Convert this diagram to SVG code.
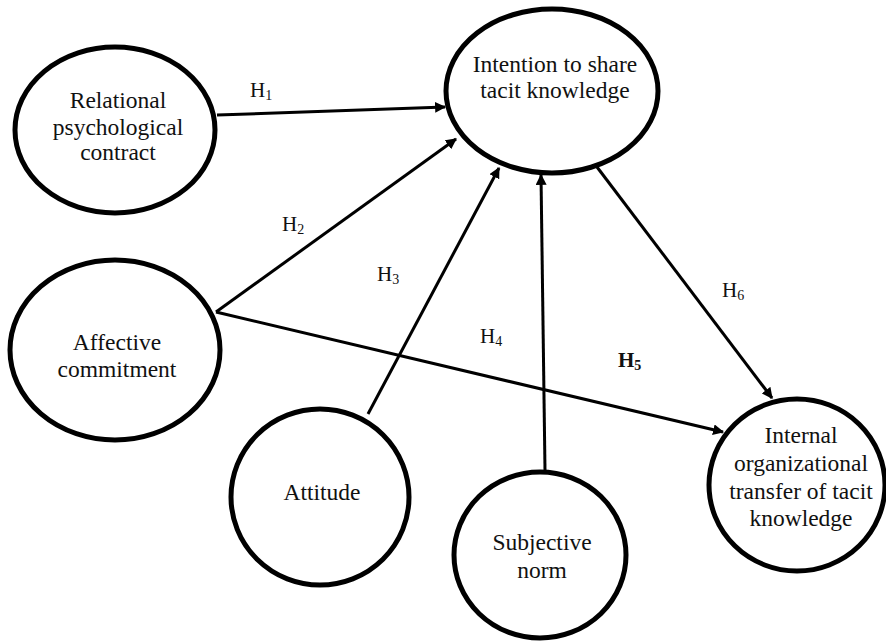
<svg xmlns="http://www.w3.org/2000/svg" width="886" height="643" viewBox="0 0 886 643">
  <style>
    .node ellipse { fill: #ffffff; stroke: #000000; stroke-width: 5; }
    .node text { font-family: "Liberation Serif", "Times New Roman", serif; font-size: 23.5px; fill: #111111; text-anchor: middle; }
    .edge { stroke: #000000; stroke-width: 3; fill: none; }
    .lbl { font-family: "Liberation Serif", "Times New Roman", serif; font-size: 21px; fill: #111111; }
    .sub { font-size: 14px; }
    .bold { font-weight: bold; }
  </style>
  <defs>
    <marker id="arrow" viewBox="0 0 10 10" refX="9" refY="5" markerWidth="11" markerHeight="11" markerUnits="userSpaceOnUse" orient="auto">
      <path d="M0,0 L10,5 L0,10 z" fill="#000000"/>
    </marker>
  </defs>
  <rect x="0" y="0" width="886" height="643" fill="#ffffff"/>

  <g id="relational" class="node">
    <ellipse cx="115" cy="130" rx="100" ry="83"/>
    <text x="118" y="108">Relational</text>
    <text x="118" y="135">psychological</text>
    <text x="118" y="160">contract</text>
  </g>
  <g id="intention" class="node">
    <ellipse cx="552" cy="91" rx="106" ry="82"/>
    <text x="555" y="72">Intention to share</text>
    <text x="555" y="98">tacit knowledge</text>
  </g>
  <g id="affective" class="node">
    <ellipse cx="115" cy="350" rx="105" ry="90"/>
    <text x="117" y="350">Affective</text>
    <text x="117" y="377">commitment</text>
  </g>
  <g id="attitude" class="node">
    <ellipse cx="320" cy="497" rx="89" ry="88"/>
    <text x="322" y="500">Attitude</text>
  </g>
  <g id="subjective" class="node">
    <ellipse cx="540" cy="555" rx="86" ry="83"/>
    <text x="542" y="550">Subjective</text>
    <text x="542" y="578">norm</text>
  </g>
  <g id="internal" class="node">
    <ellipse cx="797" cy="485" rx="88" ry="86"/>
    <text x="801" y="443">Internal</text>
    <text x="801" y="471">organizational</text>
    <text x="801" y="499">transfer of tacit</text>
    <text x="801" y="526">knowledge</text>
  </g>

  <g id="connectors">
    <line class="edge" x1="217" y1="115" x2="445" y2="107" marker-end="url(#arrow)"/>
    <line class="edge" x1="216" y1="312" x2="456" y2="139" marker-end="url(#arrow)"/>
    <line class="edge" x1="368" y1="414" x2="499" y2="168" marker-end="url(#arrow)"/>
    <line class="edge" x1="545" y1="470" x2="541" y2="175" marker-end="url(#arrow)"/>
    <line class="edge" x1="216" y1="312" x2="723" y2="432" marker-end="url(#arrow)"/>
    <line class="edge" x1="597" y1="167" x2="772" y2="398" marker-end="url(#arrow)"/>
  </g>

  <g id="labels">
    <text class="lbl" x="250" y="97">H<tspan class="sub" dy="3">1</tspan></text>
    <text class="lbl" x="282" y="231">H<tspan class="sub" dy="3">2</tspan></text>
    <text class="lbl" x="377" y="281">H<tspan class="sub" dy="3">3</tspan></text>
    <text class="lbl" x="480" y="343">H<tspan class="sub" dy="3">4</tspan></text>
    <text class="lbl bold" x="618" y="367">H<tspan class="sub" dy="3">5</tspan></text>
    <text class="lbl" x="722" y="297">H<tspan class="sub" dy="3">6</tspan></text>
  </g>
</svg>
